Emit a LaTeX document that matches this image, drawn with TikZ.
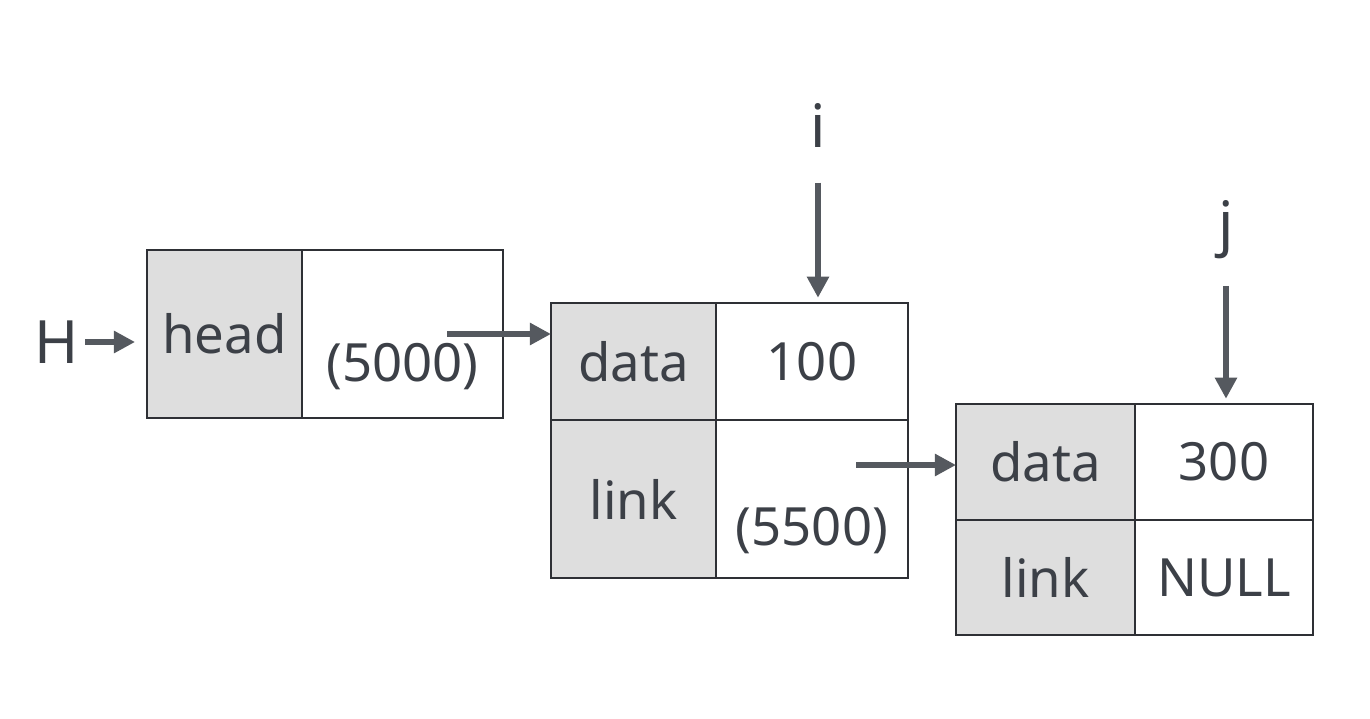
\documentclass[tikz,border=0pt]{standalone}
\usepackage{fontspec}
\setmainfont{Noto Sans}
\usetikzlibrary{positioning,calc,arrows.meta}
\definecolor{boxline}{HTML}{2E3035}
\definecolor{keyfill}{HTML}{DEDEDE}
\definecolor{ptrcol}{HTML}{55595F}
\definecolor{txtcol}{HTML}{3C4047}
\tikzset{
  cell/.style={draw=boxline, line width=1.6pt, inner sep=0pt, outer sep=0pt, text=txtcol, font=\fontsize{30}{36}\selectfont},
  keycell/.style={cell, fill=keyfill},
  txt/.style={inner sep=0pt, text=txtcol, font=\fontsize{30}{36}\selectfont},
  bigtxt/.style={txt, font=\fontsize{34}{40}\selectfont},
  ptr/.style={-{Triangle[length=12pt,width=12pt]}, draw=ptrcol, line width=3pt},
}

\begin{document}
\begin{tikzpicture}[x=0.02cm, y=-0.02cm]
    \useasboundingbox[fill=white] (0,0) rectangle (1370,718);
    % head pointer
    \node[keycell, minimum width=3.1cm, minimum height=3.36cm] (hk) at (224.5,334) {head};
    \node[cell, minimum width=4.02cm, minimum height=3.36cm, right=0pt of hk] (hv) {};
    \node[txt] (hvt) at ([yshift=-0.66cm]hv.center) {(5000)};
    % first node
    \node[keycell, minimum width=3.3cm, minimum height=2.34cm] (n1dk) at (633.5,361.5) {data};
    \node[cell, minimum width=3.84cm, minimum height=2.34cm, right=0pt of n1dk] (n1dv) {100};
    \node[keycell, minimum width=3.3cm, minimum height=3.16cm, below=0pt of n1dk] (n1lk) {link};
    \node[cell, minimum width=3.84cm, minimum height=3.16cm, right=0pt of n1lk] (n1lv) {};
    \node[txt] (n1lvt) at ([yshift=-0.64cm]n1lv.center) {(5500)};
    % second node
    \node[keycell, minimum width=3.58cm, minimum height=2.32cm] (n2dk) at (1045.5,462) {data};
    \node[cell, minimum width=3.56cm, minimum height=2.32cm, right=0pt of n2dk] (n2dv) {300};
    \node[keycell, minimum width=3.58cm, minimum height=2.3cm, below=0pt of n2dk] (n2lk) {link};
    \node[cell, minimum width=3.56cm, minimum height=2.3cm, right=0pt of n2lk] (n2lv) {NULL};
    % names
    \node[bigtxt] (H) at (57,342) {H};
    \node[bigtxt] (i) at (818,125) {i};
    \node[bigtxt] (j) at (1226,230) {j};
    % pointers
    \coordinate (p1) at (447,334);
    \coordinate (p2) at (856,465);
    \draw[ptr, line width=3.4pt, shorten <=3.4pt, shorten >=6.8pt] (H.east) -- (H.east -| hk.west);
    \draw[ptr] (p1) -- (p1 -| n1dk.west);
    \draw[ptr] (p2) -- (p2 -| n2dk.west);
    \draw[ptr, shorten <=20pt, shorten >=3pt] (i.south) -- (i.south |- n1dv.north);
    \draw[ptr, shorten <=15pt, shorten >=3pt] (j.south) -- (j.south |- n2dv.north);
\end{tikzpicture}
\end{document}
